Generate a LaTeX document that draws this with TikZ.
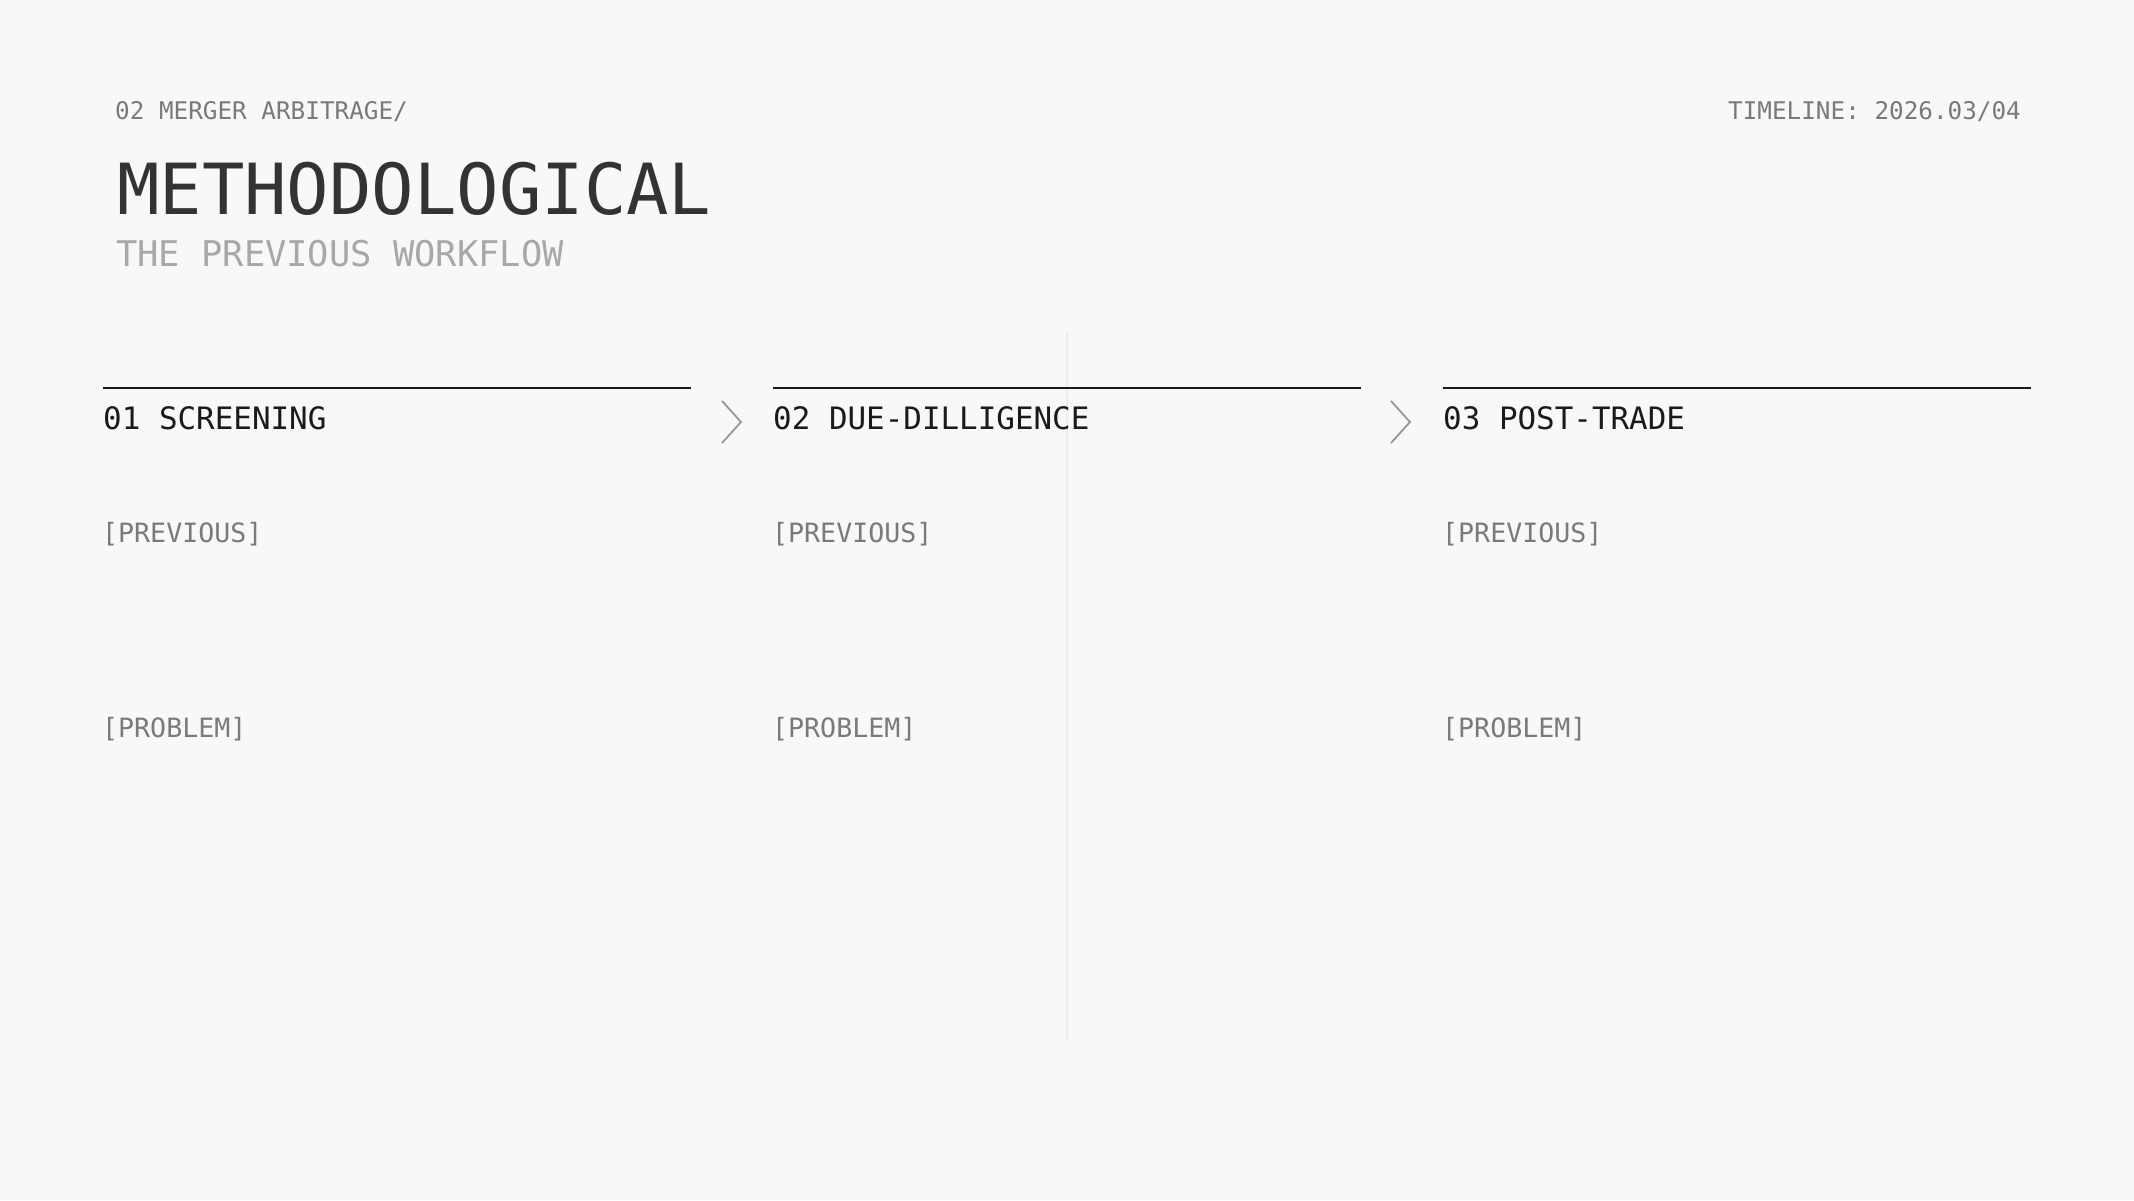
\documentclass[tikz,border=0pt]{standalone}
\usepackage{fontspec}
\setmonofont{DejaVu Sans Mono}
\definecolor{PageBg}{HTML}{F8F8F6}
\definecolor{InkDark}{HTML}{333333}
\definecolor{InkBlack}{HTML}{1A1A1A}
\definecolor{InkGray}{HTML}{7A7A7A}
\definecolor{InkLight}{HTML}{A8A8A8}
\definecolor{GuideGray}{HTML}{EDEDEB}
\begin{document}
\begin{tikzpicture}[x=1pt,y=-1pt]
  \tikzset{TagStyle/.style     = {anchor      = base west,
                                  inner sep   = 0pt,
                                  text        = InkGray,
                                  font        = \ttfamily\fontsize{24.3}{28}\selectfont}}
  \tikzset{TitleStyle/.style   = {anchor      = base west,
                                  inner sep   = 0pt,
                                  text        = InkDark,
                                  font        = \ttfamily\fontsize{70.5}{78}\selectfont}}
  \tikzset{SubStyle/.style     = {anchor      = base west,
                                  inner sep   = 0pt,
                                  text        = InkLight,
                                  font        = \ttfamily\fontsize{35.4}{40}\selectfont}}
  \tikzset{StageStyle/.style   = {anchor      = base west,
                                  inner sep   = 0pt,
                                  text        = InkBlack,
                                  font        = \ttfamily\fontsize{30.9}{36}\selectfont}}
  \tikzset{FieldStyle/.style   = {anchor      = base west,
                                  inner sep   = 0pt,
                                  text        = InkGray,
                                  font        = \ttfamily\fontsize{26.6}{30}\selectfont}}
  \tikzset{RuleStyle/.style    = {line width  = 2.2pt,
                                  draw        = InkBlack}}
  \tikzset{ChevronStyle/.style = {line width  = 1.8pt,
                                  draw        = InkLight!90!black,
                                  line join   = miter}}
%                                  line cap = round}}

\fill[PageBg] (0,0) rectangle (2134,1200);
\useasboundingbox (0,0) rectangle (2134,1200);

% faint middle guide
\coordinate (G1) at (1067,332);
\coordinate (G2) at (1067,1040);
\draw[GuideGray, line width=2pt] (G1) -- (G2);

% header
\node[TagStyle] (section) at (115,119) {02 MERGER ARBITRAGE/};
\node[TagStyle, anchor=base east] (timeline) at (2021,119) {TIMELINE: 2026.03/04};
\node[TitleStyle] (title) at (117,214) {METHODOLOGICAL};
\node[SubStyle] (subtitle) at (116,266) {THE PREVIOUS WORKFLOW};

% stage rules
\coordinate (R1a) at (103,388);
\coordinate (R1b) at (691,388);
\coordinate (R2a) at (773,388);
\coordinate (R2b) at (1361,388);
\coordinate (R3a) at (1443,388);
\coordinate (R3b) at (2031,388);

\draw[RuleStyle] (R1a) -- (R1b);
\draw[RuleStyle] (R2a) -- (R2b);
\draw[RuleStyle] (R3a) -- (R3b);

% chevrons
\draw[ChevronStyle] (722,401) -- (741,422) -- (722,443);
\draw[ChevronStyle] (1391,401) -- (1410,422) -- (1391,443);

% stage titles
\node[StageStyle] (screening) at (103,429) {01 SCREENING};
\node[StageStyle] (diligence) at (773,429) {02 DUE-DILLIGENCE};
\node[StageStyle] (posttrade) at (1443,429) {03 POST-TRADE};

% fields
\node[FieldStyle] (prev1) at (102,542) {[PREVIOUS]};
\node[FieldStyle] (prev2) at (772,542) {[PREVIOUS]};
\node[FieldStyle] (prev3) at (1442,542) {[PREVIOUS]};
\node[FieldStyle] (prob1) at (102,737) {[PROBLEM]};
\node[FieldStyle] (prob2) at (772,737) {[PROBLEM]};
\node[FieldStyle] (prob3) at (1442,737) {[PROBLEM]};
\end{tikzpicture}
\end{document}
